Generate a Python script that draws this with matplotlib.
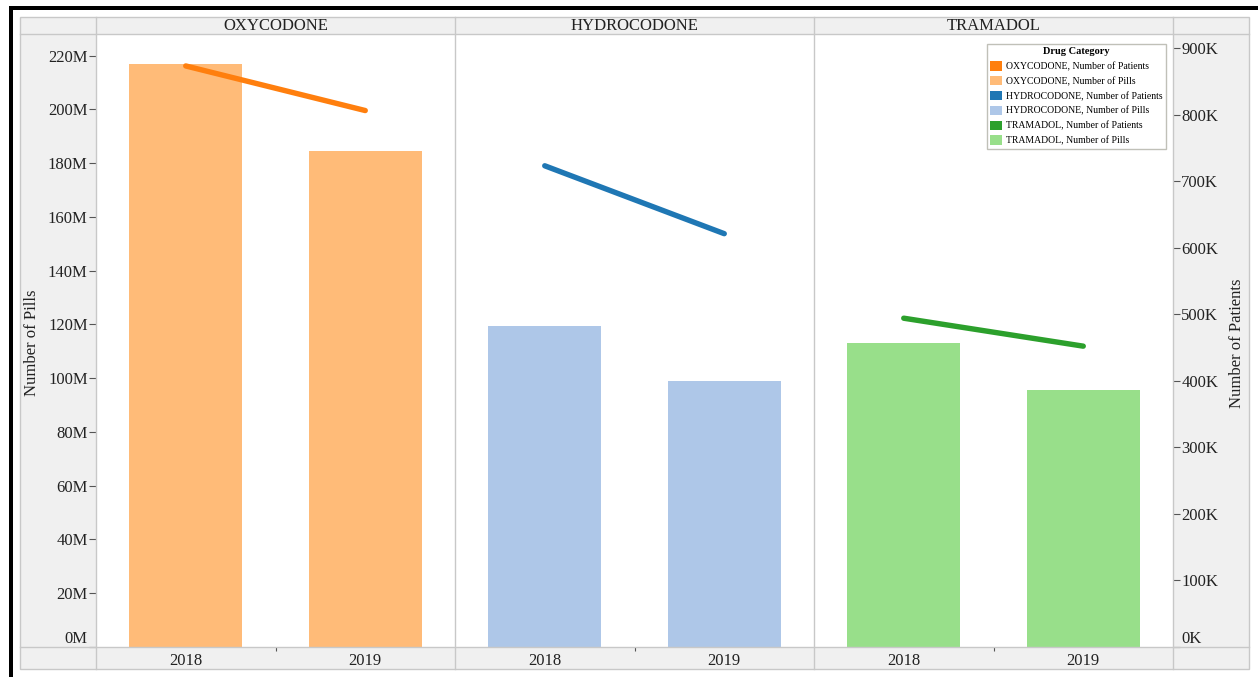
import matplotlib
matplotlib.use("Agg")
import matplotlib.pyplot as plt
from matplotlib.patches import Rectangle, Patch
from matplotlib.lines import Line2D

plt.rcParams['font.family'] = ['Liberation Serif', 'DejaVu Serif']

drugs = ["OXYCODONE", "HYDROCODONE", "TRAMADOL"]
years = ["2018", "2019"]
pills = {
    "OXYCODONE": [216.7e6, 184.6e6],
    "HYDROCODONE": [119.3e6, 99.0e6],
    "TRAMADOL": [113.1e6, 95.7e6],
}
patients = {
    "OXYCODONE": [873e3, 806e3],
    "HYDROCODONE": [723e3, 621e3],
    "TRAMADOL": [494e3, 452e3],
}
line_colors = {"OXYCODONE": "#ff7f0e", "HYDROCODONE": "#1f77b4", "TRAMADOL": "#2ca02c"}
bar_colors = {"OXYCODONE": "#ffbb78", "HYDROCODONE": "#aec7e8", "TRAMADOL": "#98df8a"}
pill_ticks = [0, 20e6, 40e6, 60e6, 80e6, 100e6, 120e6, 140e6, 160e6, 180e6, 200e6, 220e6]
pill_labels = ["0M", "20M", "40M", "60M", "80M", "100M", "120M", "140M", "160M", "180M", "200M", "220M"]
pat_ticks = [0, 100e3, 200e3, 300e3, 400e3, 500e3, 600e3, 700e3, 800e3, 900e3]
pat_labels = ["0K", "100K", "200K", "300K", "400K", "500K", "600K", "700K", "800K", "900K"]

W, H = 1258, 677
fig = plt.figure(figsize=(W / 100, H / 100), dpi=100)
fig.patch.set_facecolor("white")

def fx(x):
    return x / W

def fy(y):
    return 1 - y / H

GRID = "#c8c8c8"
# gray frame
fig.patches.append(Rectangle((fx(20), fy(669)), (1249 - 20) / W, (669 - 17) / H,
                             transform=fig.transFigure, facecolor="#f0f0f0",
                             edgecolor=GRID, lw=1, zorder=-5))
# black border
fig.patches.append(Rectangle((fx(9), fy(10)), (W - 9) / W, 4 / H, transform=fig.transFigure,
                             facecolor="black", edgecolor="none", zorder=5))
fig.patches.append(Rectangle((fx(9), fy(677)), 4 / W, (677 - 6) / H, transform=fig.transFigure,
                             facecolor="black", edgecolor="none", zorder=5))

edges = [96, 455, 814, 1173]
top, bot = 34, 647
YMAX_L = 228e6
YMAX_R = 921e3

for i, d in enumerate(drugs):
    x0, x1 = edges[i], edges[i + 1]
    ax = fig.add_axes([fx(x0), fy(bot), (x1 - x0) / W, (bot - top) / H])
    ax.set_zorder(1)
    ax.set_facecolor("white")
    ax.bar([0, 1], pills[d], width=0.63, color=bar_colors[d], zorder=2)
    ax.set_xlim(-0.5, 1.5)
    ax.set_ylim(0, YMAX_L)
    for s in ax.spines.values():
        s.set_visible(False)
    ax.set_xticks([0, 1], years, fontsize=12)
    ax.set_xticks([0.5], minor=True)
    ax.tick_params(axis="x", which="major", length=0, pad=4, labelcolor="#222222")
    ax.tick_params(axis="x", which="minor", length=3, width=0.8, color="#555555", direction="out")
    if i == 0:
        ax.set_yticks(pill_ticks, pill_labels, fontsize=12)
        ax.tick_params(axis="y", length=5, width=0.8, color="#555555", pad=1, labelcolor="#222222")
        ax.get_yticklabels()[0].set_va("bottom")
    else:
        ax.set_yticks([])
    tw = ax.twinx()
    tw.plot([0, 1], patients[d], color=line_colors[d], lw=3.9, solid_capstyle="round", zorder=3)
    tw.set_ylim(0, YMAX_R)
    tw.set_xlim(-0.5, 1.5)
    for s in tw.spines.values():
        s.set_visible(False)
    if i == 2:
        tw.set_yticks(pat_ticks, pat_labels, fontsize=12)
        tw.tick_params(axis="y", length=5, width=0.8, color="#555555", pad=1, labelcolor="#222222")
        tw.get_yticklabels()[0].set_va("bottom")
    else:
        tw.set_yticks([])
    # header text
    fig.text(fx((x0 + x1) / 2), fy(25.5), d, ha="center", va="center", fontsize=12, color="#222222")

fig.text(fx(32), fy(343), "Number of Pills", rotation=90, ha="center", va="center",
         fontsize=12, color="#222222")
fig.text(fx(1237), fy(343), "Number of Patients", rotation=90, ha="center", va="center",
         fontsize=12, color="#222222")

# grid lines
for y in [34, 647]:
    fig.add_artist(Line2D([fx(20), fx(1249)], [fy(y), fy(y)], color=GRID, lw=1, zorder=4))
for x in [96, 1173]:
    fig.add_artist(Line2D([fx(x), fx(x)], [fy(17), fy(669)], color=GRID, lw=1, zorder=4))
for x in [455, 814]:
    fig.add_artist(Line2D([fx(x), fx(x)], [fy(17), fy(669)], color=GRID, lw=1, zorder=4))

# legend
handles = []
for d in drugs:
    handles.append(Patch(facecolor=line_colors[d], edgecolor="none", label=f"{d}, Number of Patients"))
    handles.append(Patch(facecolor=bar_colors[d], edgecolor="none", label=f"{d}, Number of Pills"))
leg = fig.legend(handles=handles, title="Drug Category", loc="upper left",
                 bbox_to_anchor=(fx(987), fy(44)), fontsize=7,
                 title_fontproperties={"weight": "bold", "size": 7.5},
                 handlelength=1.15, handleheight=1.1, handletextpad=0.5,
                 labelspacing=0.5, borderpad=0.35, borderaxespad=0,
                 fancybox=False, framealpha=1, edgecolor="#c0c0b8")
leg.get_frame().set_linewidth(1)
leg.set_zorder(10)

fig.savefig("out.png", dpi=100, facecolor="white")
